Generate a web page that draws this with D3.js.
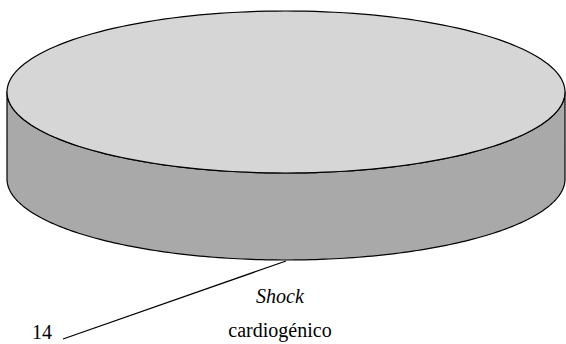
<!DOCTYPE html>
<html>
<head>
<meta charset="utf-8">
<script src="https://cdn.jsdelivr.net/npm/d3@7"></script>
<style>
  html, body { margin: 0; padding: 0; background: #fff; }
  svg text { font-family: "Liberation Serif", serif !important; }
</style>
</head>
<body>
<svg id="chart" width="566" height="344"></svg>
<script>
// Cases by category (a single category makes the whole disc)
const categories = ["Shock cardiogénico"];
const values = [14];

const cx = 286, cy = 92, rx = 279, ry = 81, depth = 87;

const svg = d3.select("#chart");

const pie = d3.pie().sort(null).startAngle(0).endAngle(2 * Math.PI)(values);

// Project a pie angle (0 = front/bottom, clockwise) onto the tilted ellipse
const px = a => cx - rx * Math.sin(a);
const py = (a, dz) => cy + ry * Math.cos(a) + dz;

const sample = (a0, a1, dz) => d3.range(0, 181).map(i => {
  const a = a0 + (a1 - a0) * i / 180;
  return [px(a), py(a, dz)];
});

const line = d3.line();

pie.forEach(s => {
  // Visible outer wall: the front half of the rim, from the left edge to the right edge
  const wallTop = sample(Math.PI / 2, -Math.PI / 2, 0);
  const wallBot = sample(-Math.PI / 2, Math.PI / 2, depth);
  svg.append("path")
    .attr("d", line(wallTop.concat(wallBot)) + "Z")
    .attr("fill", "#a9a9a9")
    .attr("stroke", "#000")
    .attr("stroke-width", 1.2)
    .attr("stroke-linejoin", "round");

  // Top face of the slice
  const top = sample(s.startAngle, s.endAngle, 0);
  svg.append("path")
    .attr("d", line(top) + "Z")
    .attr("fill", "#d6d6d6")
    .attr("stroke", "#000")
    .attr("stroke-width", 1.2);

  // Leader line from the bottom of the slice's rim to its value label
  const mid = (s.startAngle + s.endAngle) / 2 - Math.PI;
  const ax = px(mid), ay = py(mid, depth) + 1;
  svg.append("line")
    .attr("x1", ax).attr("y1", ay)
    .attr("x2", 63).attr("y2", 339)
    .attr("stroke", "#000")
    .attr("stroke-width", 1.2);

  svg.append("text")
    .attr("x", 52).attr("y", 339)
    .attr("text-anchor", "end")
    .style("font-family", "Liberation Serif")
    .attr("font-size", 20)
    .text(String(s.data));
});

// Category label: first word in italics, the rest on the line below
const words = categories[0].split(" ");
svg.append("text")
  .attr("x", 280).attr("y", 303)
  .attr("text-anchor", "middle")
  .style("font-family", "Liberation Serif")
  .attr("font-size", 20)
  .attr("font-style", "italic")
  .text(words[0]);
svg.append("text")
  .attr("x", 280).attr("y", 337)
  .attr("text-anchor", "middle")
  .style("font-family", "Liberation Serif")
  .attr("font-size", 20)
  .text(words.slice(1).join(" "));
</script>
</body>
</html>
